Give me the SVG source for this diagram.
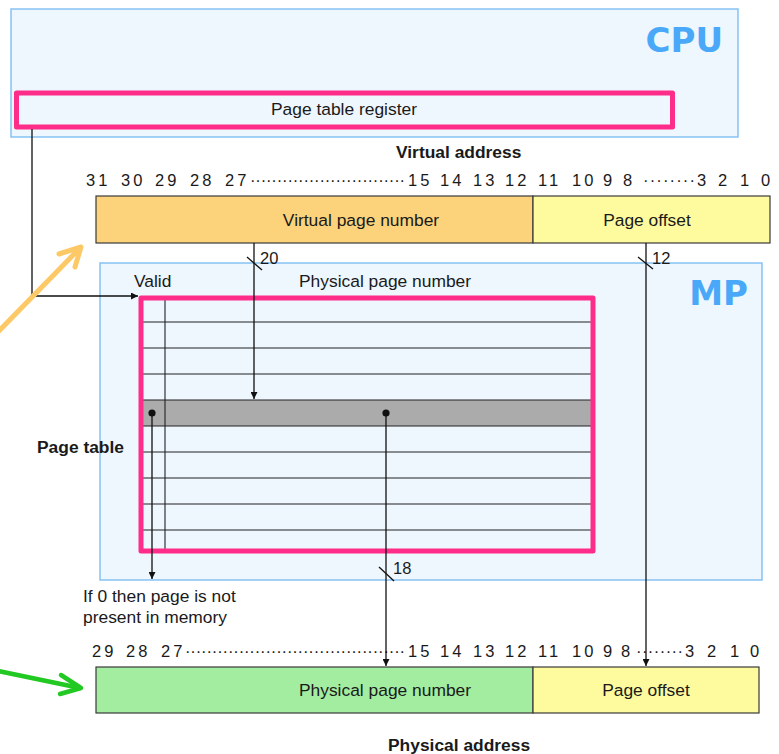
<svg xmlns="http://www.w3.org/2000/svg" width="779" height="754" viewBox="0 0 779 754">
  <style>
    .t { font-family: "Liberation Sans", Arial, sans-serif; font-size: 17.4px; fill: #1a1a1a; }
    .b { font-weight: bold; }
    .bits { font-family: "Liberation Sans", Arial, sans-serif; font-size: 16.5px; fill: #1a1a1a; letter-spacing: 3px; }
    .dots { font-family: "Liberation Sans", Arial, sans-serif; font-size: 16.5px; fill: #1a1a1a; }
    .small { font-family: "Liberation Sans", Arial, sans-serif; font-size: 16.5px; fill: #1a1a1a; }
    .big { font-family: "DejaVu Sans", Verdana, sans-serif; font-weight: bold; font-size: 34px; fill: #4aa8f8; }
    .zone { fill: #eef6fe; stroke: #86c2f2; stroke-width: 1.5; }
    .hl { fill: none; stroke: #ff2d8a; stroke-width: 5; stroke-linejoin: round; }
    .field { stroke: #3a3a3a; stroke-width: 1.2; }
    .wire { stroke: #111; stroke-width: 1.3; fill: none; }
    .row { stroke: #222; stroke-width: 1.1; }
  </style>
  <defs>
    <marker id="ah" viewBox="0 0 10 10" refX="10" refY="5" markerWidth="8" markerHeight="7" markerUnits="userSpaceOnUse" orient="auto">
      <path d="M0,0 L10,5 L0,10 Z" fill="#111"/>
    </marker>
  </defs>

  <rect width="779" height="754" fill="#ffffff"/>

  <!-- CPU block with page table register -->
  <g id="cpu">
    <rect class="zone" x="11" y="9" width="727" height="128"/>
    <text class="big" x="723" y="52" text-anchor="end">CPU</text>
  </g>
  <g id="page-table-register">
    <rect class="hl" x="16.5" y="93" width="656" height="34"/>
    <text class="t" x="344" y="115" text-anchor="middle">Page table register</text>
  </g>

  <!-- Virtual address -->
  <g id="virtual-address">
    <text class="t b" x="396" y="158">Virtual address</text>
    <g id="va-bits">
      <text class="bits" x="86" y="186">31</text>
      <text class="bits" x="121" y="186">30</text>
      <text class="bits" x="155" y="186">29</text>
      <text class="bits" x="190" y="186">28</text>
      <text class="bits" x="225" y="186">27</text>
      <text class="dots" x="250" y="186" textLength="155" lengthAdjust="spacing">·····························</text>
      <text class="bits" x="408" y="186">15</text>
      <text class="bits" x="440" y="186">14</text>
      <text class="bits" x="473" y="186">13</text>
      <text class="bits" x="505" y="186">12</text>
      <text class="bits" x="538" y="186">11</text>
      <text class="bits" x="572" y="186">10</text>
      <text class="bits" x="603" y="186">9</text>
      <text class="bits" x="623" y="186">8</text>
      <text class="dots" x="643" y="186" textLength="52" lengthAdjust="spacing">········</text>
      <text class="bits" x="697" y="186">3</text>
      <text class="bits" x="718" y="186">2</text>
      <text class="bits" x="740" y="186">1</text>
      <text class="bits" x="761" y="186">0</text>
    </g>
    <rect class="field" x="96" y="196" width="437" height="47" fill="#fcd27a"/>
    <rect class="field" x="533" y="196" width="237" height="47" fill="#fdfb9e"/>
    <text class="t" x="361" y="226" text-anchor="middle">Virtual page number</text>
    <text class="t" x="647" y="226" text-anchor="middle">Page offset</text>
  </g>

  <!-- Main memory with the page table -->
  <g id="mp">
    <rect class="zone" x="100" y="263" width="662" height="317"/>
    <text class="big" x="748" y="305" text-anchor="end">MP</text>
  </g>
  <g id="page-table">
    <text class="t" x="134" y="287">Valid</text>
    <text class="t" x="299" y="287">Physical page number</text>
    <text class="t b" x="37" y="453">Page table</text>
    <rect x="143" y="400" width="449" height="26" fill="#ababab"/>
    <g class="row">
      <line x1="143" y1="322" x2="592" y2="322"/>
      <line x1="143" y1="348" x2="592" y2="348"/>
      <line x1="143" y1="374" x2="592" y2="374"/>
      <line x1="143" y1="400" x2="592" y2="400"/>
      <line x1="143" y1="426" x2="592" y2="426"/>
      <line x1="143" y1="452" x2="592" y2="452"/>
      <line x1="143" y1="478" x2="592" y2="478"/>
      <line x1="143" y1="504" x2="592" y2="504"/>
      <line x1="143" y1="530" x2="592" y2="530"/>
      <line x1="165" y1="298" x2="165" y2="550"/>
    </g>
    <rect class="hl" x="141" y="298" width="452" height="253"/>
  </g>

  <!-- Physical address -->
  <g id="physical-address">
    <g id="pa-bits">
      <text class="bits" x="92" y="657">29</text>
      <text class="bits" x="126" y="657">28</text>
      <text class="bits" x="161" y="657">27</text>
      <text class="dots" x="185" y="657" textLength="220" lengthAdjust="spacing">·········································</text>
      <text class="bits" x="408" y="657">15</text>
      <text class="bits" x="440" y="657">14</text>
      <text class="bits" x="473" y="657">13</text>
      <text class="bits" x="505" y="657">12</text>
      <text class="bits" x="538" y="657">11</text>
      <text class="bits" x="572" y="657">10</text>
      <text class="bits" x="603" y="657">9</text>
      <text class="bits" x="621" y="657">8</text>
      <text class="dots" x="636" y="657" textLength="47" lengthAdjust="spacing">········</text>
      <text class="bits" x="685" y="657">3</text>
      <text class="bits" x="707" y="657">2</text>
      <text class="bits" x="730" y="657">1</text>
      <text class="bits" x="750" y="657">0</text>
    </g>
    <rect class="field" x="96" y="667" width="437" height="46" fill="#a3eda0"/>
    <rect class="field" x="533" y="667" width="226" height="46" fill="#fdfb9e"/>
    <text class="t" x="385" y="696" text-anchor="middle">Physical page number</text>
    <text class="t" x="646" y="696" text-anchor="middle">Page offset</text>
    <text class="t b" x="388" y="751">Physical address</text>
  </g>

  <g id="valid-note">
    <text class="t" x="83" y="602">If 0 then page is not</text>
    <text class="t" x="83" y="623">present in memory</text>
  </g>

  <!-- Connectors -->
  <g id="connectors">
    <polyline class="wire" points="32,129 32,296 138,296" marker-end="url(#ah)"/>
    <line class="wire" x1="254" y1="243" x2="254" y2="399" marker-end="url(#ah)"/>
    <line class="wire" x1="247" y1="257" x2="262" y2="270"/>
    <text class="small" x="260" y="264">20</text>
    <line class="wire" x1="646" y1="243" x2="646" y2="666" marker-end="url(#ah)"/>
    <line class="wire" x1="638" y1="257" x2="653" y2="269"/>
    <text class="small" x="652" y="264">12</text>
    <circle cx="152" cy="413" r="3.6" fill="#111"/>
    <line class="wire" x1="152" y1="413" x2="152" y2="579" marker-end="url(#ah)"/>
    <circle cx="386" cy="413" r="3.6" fill="#111"/>
    <line class="wire" x1="386" y1="413" x2="386" y2="666" marker-end="url(#ah)"/>
    <line class="wire" x1="379" y1="567" x2="394" y2="581"/>
    <text class="small" x="393" y="574">18</text>

    <!-- highlight pointers -->
    <g fill="none" stroke="#fdc866" stroke-width="5" stroke-linecap="round" stroke-linejoin="round">
      <line x1="-2" y1="332" x2="80" y2="248"/>
      <polyline points="59,254 81,247 75,267"/>
    </g>
    <g fill="none" stroke="#22c922" stroke-width="4.5" stroke-linecap="round" stroke-linejoin="round">
      <line x1="-2" y1="671" x2="80" y2="688"/>
      <polyline points="61,675 81,688 60,694"/>
    </g>
  </g>
</svg>
